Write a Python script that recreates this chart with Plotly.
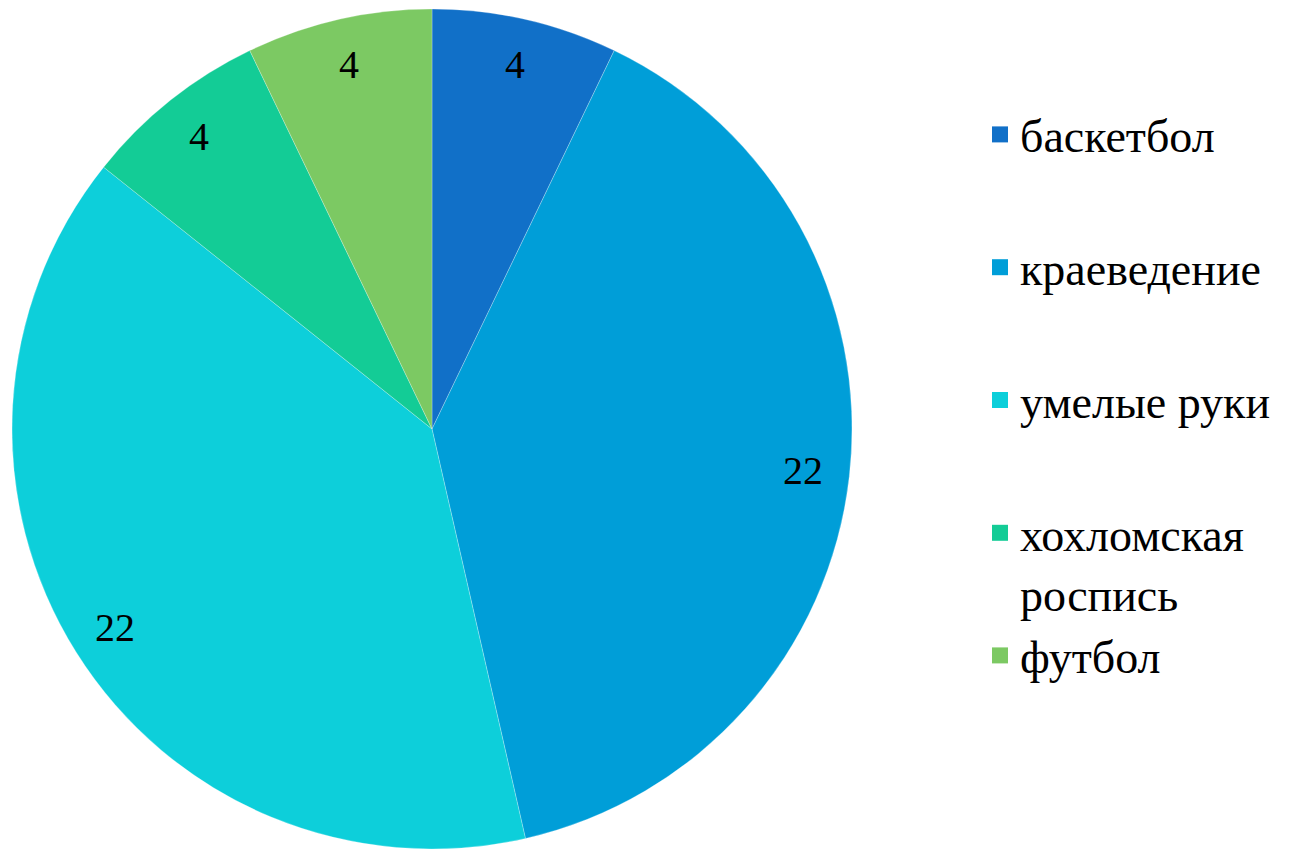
import math
import plotly.graph_objects as go

categories = ["баскетбол", "краеведение", "умелые руки", "хохломская<br>роспись", "футбол"]
values = [4, 22, 22, 4, 4]
colors = ["#1170C8", "#009ED8", "#0DCFDA", "#13CC96", "#7CC963"]
legend_groups = ["g0", "g1", "g2", "g3", "g3"]

W, H = 1302, 850
# pie domain in pixels
px0, px1 = 4, 844
py_top, py_bot = 1, 841
fig = go.Figure()
fig.add_trace(go.Pie(
    labels=categories, values=values, sort=False, direction="clockwise", rotation=0,
    marker=dict(colors=colors, line=dict(color="rgba(255,255,255,0.5)", width=0.5)),
    textinfo="none",
    showlegend=False, hoverinfo="label+value",
    domain=dict(x=[px0 / W, px1 / W], y=[1 - py_bot / H, 1 - py_top / H]),
))

# value labels placed along each slice's mid-angle, near the rim
cx = (px0 + px1) / 2 / W
cy = 1 - (py_top + py_bot) / 2 / H
R = (px1 - px0) / 2
total = sum(values)
cum = 0
for v in values:
    mid = (cum + v / 2) / total * 2 * math.pi
    cum += v
    r = 0.89 * R
    fig.add_annotation(
        x=cx + r * math.sin(mid) / W, y=cy + r * math.cos(mid) / H,
        xref="paper", yref="paper", xanchor="center", yanchor="middle",
        text=str(v), showarrow=False,
        font=dict(family="Liberation Serif", size=40, color="black"),
    )

for c, col, g in zip(categories, colors, legend_groups):
    fig.add_trace(go.Scatter(
        x=[None], y=[None], mode="markers", name=c, legendgroup=g,
        marker=dict(symbol="square", size=16, color=col),
    ))

fig.update_layout(
    width=W, height=H, margin=dict(l=0, r=0, t=0, b=0),
    paper_bgcolor="white", plot_bgcolor="white",
    xaxis=dict(visible=False), yaxis=dict(visible=False),
    legend=dict(x=972 / W, xanchor="left", y=1 - 90 / H, yanchor="top",
                font=dict(family="Liberation Serif", size=46, color="black"),
                traceorder="grouped", tracegroupgap=70, valign="top",
                bgcolor="rgba(0,0,0,0)"),
)
fig.write_html("out.html")
